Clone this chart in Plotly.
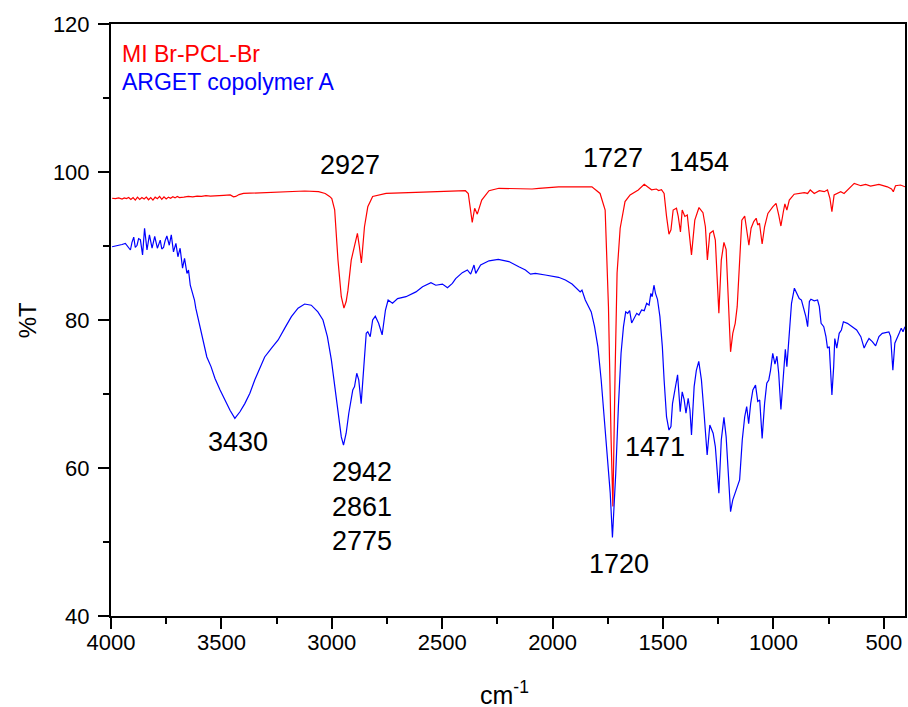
import plotly.graph_objects as go

# ---- MI Br-PCL-Br (red) ----
red_wn = [3995, 3980, 3965, 3950, 3940, 3930, 3920, 3910, 3900, 3890, 3880, 3870, 3860, 3850, 3840, 3830,
          3820, 3810, 3800, 3790, 3780, 3770, 3760, 3750, 3740, 3730, 3720, 3710, 3700, 3690, 3670, 3650,
          3630, 3610, 3590, 3570, 3550, 3520, 3490, 3460, 3445, 3435, 3420, 3400, 3300, 3200, 3123, 3060,
          3030, 3010, 3000, 2987, 2972, 2957, 2945, 2935, 2927, 2912, 2902, 2893, 2884, 2875, 2866, 2852,
          2837, 2815, 2754, 2619, 2450, 2395, 2382, 2364, 2353, 2341, 2321, 2288, 2243, 2093, 2062, 1973,
          1822, 1785, 1762, 1747, 1735, 1727, 1717, 1708, 1694, 1672, 1649, 1612, 1585, 1570, 1552, 1530,
          1520, 1507, 1495, 1484, 1473, 1464, 1454, 1439, 1431, 1421, 1413, 1401, 1390, 1371, 1356, 1337,
          1319, 1308, 1299, 1288, 1273, 1263, 1247, 1236, 1224, 1214, 1203, 1194, 1184, 1173, 1164, 1153,
          1143, 1130, 1120, 1111, 1101, 1089, 1078, 1071, 1063, 1051, 1040, 1025, 1003, 988, 976, 966,
          955, 948, 939, 928, 906, 860, 845, 833, 815, 792, 770, 755, 744, 735, 725, 710,
          695, 680, 657, 634, 604, 582, 560, 522, 484, 465, 457, 447, 424, 404]
red_t = [96.45, 96.4, 96.5, 96.35, 96.5, 96.4, 96.55, 96.3, 96.55, 96.2, 96.6, 96.3, 96.55, 96.35, 96.6, 96.25,
         96.55, 96.2, 96.6, 96.4, 96.7, 96.3, 96.65, 96.35, 96.6, 96.45, 96.65, 96.5, 96.7, 96.55, 96.6, 96.7,
         96.65, 96.75, 96.7, 96.8, 96.75, 96.85, 96.85, 96.9, 96.65, 96.7, 96.95, 97.1, 97.25, 97.35, 97.43, 97.35,
         97.1, 96.7, 96.4, 94.9, 88.1, 83.15, 81.6, 82.5, 84.0, 88.1, 89.55, 90.36, 91.7, 89.9, 87.7, 92.6,
         95.3, 96.7, 97.1, 97.25, 97.4, 97.47, 97.1, 93.2, 95.1, 94.3, 96.2, 97.47, 97.8, 97.7, 97.8, 98.0,
         98.0, 97.1, 94.86, 81.8, 63.8, 54.8, 72.8, 86.35, 92.4, 96.0, 96.9, 97.57, 98.33, 98.0, 97.6, 97.7,
         97.5, 97.6, 97.1, 94.0, 91.6, 92.2, 94.86, 95.1, 94.0, 91.9, 94.86, 94.0, 94.2, 88.8, 93.5, 95.2,
         94.5, 92.6, 88.1, 91.7, 92.05, 90.8, 80.9, 88.1, 90.5, 89.5, 81.8, 75.7, 78.2, 79.55, 81.8, 88.55,
         93.5, 94.05, 92.2, 90.1, 92.4, 93.3, 93.75, 92.84, 93.07, 90.27, 92.6, 94.4, 95.3, 95.77, 94.2, 92.7,
         94.63, 95.68, 94.86, 96.2, 97.0, 97.2, 97.1, 97.57, 97.1, 97.47, 97.34, 97.57, 96.44, 94.63, 96.9, 97.1,
         97.34, 97.1, 97.8, 98.47, 98.15, 98.33, 98.1, 98.33, 98.0, 97.7, 97.34, 98.15, 98.24, 98.0]

# ---- ARGET copolymer A (blue) ----
blue_wn = [3995, 3980, 3965, 3950, 3935, 3925, 3912, 3905, 3897, 3890, 3882, 3875, 3867, 3857, 3848, 3837,
           3826, 3814, 3802, 3790, 3777, 3770, 3762, 3755, 3747, 3736, 3727, 3717, 3706, 3697, 3687, 3676,
           3667, 3656, 3649, 3641, 3631, 3622, 3616, 3604, 3589, 3577, 3566, 3547, 3529, 3506, 3484, 3461,
           3439, 3416, 3394, 3371, 3349, 3326, 3304, 3273, 3243, 3213, 3183, 3153, 3123, 3093, 3063, 3040,
           3020, 3002, 2987, 2972, 2957, 2947, 2935, 2923, 2912, 2905, 2897, 2887, 2878, 2867, 2855, 2844,
           2837, 2826, 2815, 2803, 2788, 2772, 2757, 2745, 2725, 2702, 2664, 2619, 2589, 2551, 2529, 2499,
           2476, 2454, 2439, 2409, 2386, 2371, 2356, 2348, 2326, 2288, 2246, 2198, 2153, 2123, 2100, 2078,
           2033, 2003, 1973, 1942, 1912, 1875, 1867, 1852, 1837, 1825, 1810, 1795, 1780, 1765, 1750, 1739,
           1729, 1714, 1702, 1690, 1679, 1669, 1660, 1651, 1642, 1630, 1619, 1609, 1597, 1585, 1574, 1563,
           1555, 1549, 1541, 1534, 1525, 1514, 1503, 1495, 1484, 1473, 1464, 1457, 1449, 1443, 1434, 1428,
           1422, 1413, 1404, 1396, 1386, 1378, 1371, 1359, 1349, 1338, 1326, 1314, 1300, 1288, 1273, 1263,
           1247, 1236, 1224, 1214, 1203, 1194, 1184, 1169, 1153, 1141, 1130, 1121, 1112, 1103, 1093, 1081,
           1071, 1062, 1051, 1040, 1030, 1021, 1013, 1003, 993, 984, 976, 966, 955, 946, 939, 928,
           918, 905, 894, 883, 873, 864, 853, 845, 837, 830, 815, 800, 792, 784, 772, 762,
           755, 747, 735, 727, 722, 713, 702, 692, 683, 665, 642, 623, 604, 589, 579, 567,
           552, 537, 522, 507, 492, 477, 469, 459, 450, 439, 429, 421, 413, 404]
blue_t = [89.9, 90.0, 90.0, 90.2, 90.36, 89.9, 89.46, 90.5, 91.2, 89.8, 90.1, 91.0, 90.87, 88.8, 92.4, 89.46,
          91.5, 89.7, 91.3, 89.7, 90.8, 89.6, 89.8, 90.7, 91.35, 90.1, 91.5, 89.2, 90.36, 88.55, 89.7, 87.0,
          88.34, 86.3, 86.76, 84.7, 83.8, 82.7, 81.6, 80.0, 77.97, 76.4, 75.0, 73.7, 72.1, 70.54, 69.2, 67.8,
          66.7, 67.6, 68.7, 70.1, 71.9, 73.5, 75.0, 76.2, 77.3, 78.9, 80.45, 81.6, 82.16, 82.0, 81.1, 80.0,
          77.75, 74.6, 71.0, 67.4, 64.2, 63.1, 64.7, 67.4, 69.6, 70.54, 71.0, 72.8, 71.9, 68.7, 73.7, 78.2,
          78.4, 77.75, 80.0, 80.5, 79.55, 78.0, 81.35, 82.7, 82.26, 82.9, 83.15, 83.8, 84.5, 85.04, 84.7, 84.86,
          84.37, 84.95, 85.6, 86.4, 86.76, 86.2, 87.43, 86.3, 87.43, 88.0, 88.2, 87.9, 87.2, 86.76, 86.2, 86.3,
          86.08, 85.94, 85.77, 85.4, 84.86, 83.8, 84.05, 82.7, 81.8, 81.1, 79.1, 76.4, 71.9, 66.0, 60.2, 56.6,
          50.6, 59.3, 68.3, 75.5, 79.1, 81.1, 80.9, 81.26, 79.6, 80.2, 80.9, 80.67, 81.35, 81.26, 82.26, 82.0,
          83.6, 83.15, 84.7, 83.6, 82.8, 80.45, 76.4, 71.9, 66.9, 65.13, 65.6, 68.7, 70.1, 71.2, 72.6, 70.1,
          67.6, 70.3, 69.2, 67.4, 69.4, 67.84, 64.46, 71.0, 73.2, 74.4, 71.9, 67.4, 61.76, 65.8, 64.7, 62.9,
          56.6, 63.8, 66.85, 64.2, 58.8, 54.1, 55.7, 57.0, 58.4, 63.8, 66.9, 68.3, 66.0, 68.7, 70.54, 71.2,
          69.0, 69.2, 64.0, 68.7, 71.45, 71.9, 73.2, 75.5, 74.05, 75.1, 72.8, 67.9, 72.8, 76.04, 73.7, 77.75,
          82.26, 84.3, 83.6, 82.9, 82.7, 81.8, 80.45, 79.1, 82.5, 82.8, 82.6, 82.7, 81.8, 79.55, 79.1, 77.75,
          76.2, 76.4, 69.86, 73.7, 77.5, 76.2, 78.2, 78.65, 79.77, 79.55, 79.1, 78.65, 77.75, 76.2, 76.86, 77.5,
          77.07, 76.5, 77.75, 78.2, 78.3, 78.4, 77.75, 73.2, 76.86, 77.75, 78.3, 78.9, 78.4, 79.1]

series_names = ["MI Br-PCL-Br", "ARGET copolymer A"]
series_colors = ["#FF0000", "#0000FF"]

# peak labels: (text, wavenumber position, %T position)
peak_labels = ["2927", "1727", "1454", "3430", "2942", "2861", "2775", "1720", "1471"]
peak_label_x = [2917, 1727, 1339, 3424, 2861, 2861, 2861, 1699, 1536]
peak_label_y = [100.9, 101.96, 101.4, 63.5, 59.4, 54.75, 50.16, 47.0, 62.9]

x_ticks = [4000, 3500, 3000, 2500, 2000, 1500, 1000, 500]
y_ticks = [40, 60, 80, 100, 120]

FONT = "Arial, Liberation Sans, sans-serif"

fig = go.Figure()
fig.add_trace(go.Scatter(x=red_wn, y=red_t, mode="lines", name=series_names[0],
                         line=dict(color=series_colors[0], width=1.2)))
fig.add_trace(go.Scatter(x=blue_wn, y=blue_t, mode="lines", name=series_names[1],
                         line=dict(color=series_colors[1], width=1.2)))

annotations = []
for t, x, y in zip(peak_labels, peak_label_x, peak_label_y):
    annotations.append(dict(x=x, y=y, xref="x", yref="y", text=t, showarrow=False,
                            font=dict(family=FONT, size=27, color="black"),
                            xanchor="center", yanchor="middle"))
# legend-style coloured text
annotations.append(dict(x=0.0113, y=0.949, xref="paper", yref="paper", text=series_names[0],
                        showarrow=False, xanchor="left", yanchor="middle",
                        font=dict(family=FONT, size=23, color=series_colors[0])))
annotations.append(dict(x=0.0113, y=0.902, xref="paper", yref="paper", text=series_names[1],
                        showarrow=False, xanchor="left", yanchor="middle",
                        font=dict(family=FONT, size=23, color=series_colors[1])))
# axis titles
annotations.append(dict(x=-0.1055, y=0.5, xref="paper", yref="paper", text="%T", textangle=-90,
                        showarrow=False, xanchor="center", yanchor="middle",
                        font=dict(family=FONT, size=24, color="black")))
annotations.append(dict(x=0.496, y=-0.13, xref="paper", yref="paper", text="cm<sup>-1</sup>",
                        showarrow=False, xanchor="center", yanchor="middle",
                        font=dict(family=FONT, size=25, color="black")))

fig.update_layout(
    width=908, height=707,
    margin=dict(l=111, r=1, t=24, b=91),
    paper_bgcolor="white", plot_bgcolor="white",
    showlegend=False,
    font=dict(family=FONT, size=22, color="black"),
    annotations=annotations,
)
fig.update_xaxes(range=[4000, 404], tickvals=x_ticks, ticks="outside", ticklen=11, tickwidth=1.5,
                 tickcolor="black", showline=True, linewidth=2, linecolor="black", mirror=True,
                 showgrid=False, zeroline=False, tickfont=dict(size=22), ticklabelstandoff=-5,
                 minor=dict(dtick=250, tick0=0, ticks="outside", ticklen=6, tickwidth=1.5, tickcolor="black"))
fig.update_yaxes(range=[40, 120], tickvals=y_ticks, ticks="outside", ticklen=11, tickwidth=1.5,
                 tickcolor="black", showline=True, linewidth=2, linecolor="black", mirror=True,
                 showgrid=False, zeroline=False, tickfont=dict(size=22), ticklabelstandoff=4,
                 minor=dict(dtick=10, tick0=0, ticks="outside", ticklen=6, tickwidth=1.5, tickcolor="black"))

fig.write_html("out.html")
